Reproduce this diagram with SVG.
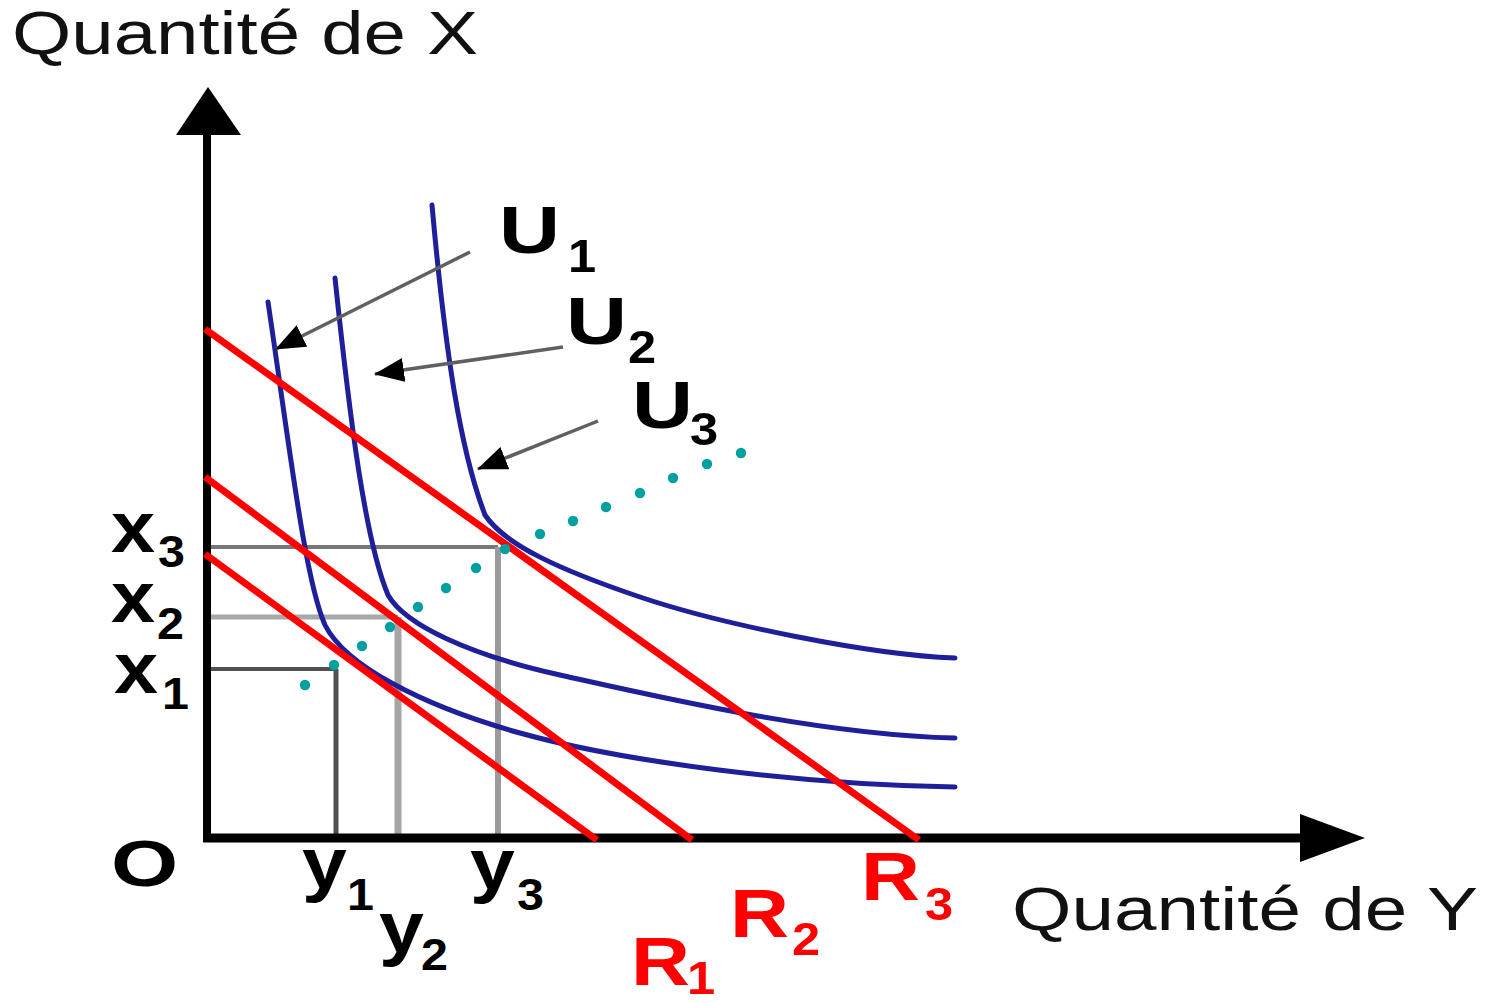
<svg xmlns="http://www.w3.org/2000/svg" width="1487" height="1003" viewBox="0 0 1487 1003">
<style>
.title{font-family:"Liberation Sans",Arial,sans-serif;font-size:62px;fill:#111}
.lb{font-family:"Liberation Sans",Arial,sans-serif;font-weight:bold;font-size:66px;fill:#000}
.sb{font-family:"Liberation Sans",Arial,sans-serif;font-weight:bold;font-size:46px;fill:#000}
.xy{font-family:"Liberation Sans",Arial,sans-serif;font-weight:bold;font-size:72px;fill:#000}
.xs{font-family:"Liberation Sans",Arial,sans-serif;font-weight:bold;font-size:44px;fill:#000}
.r{font-family:"Liberation Sans",Arial,sans-serif;font-weight:bold;font-size:68px;fill:#ff0000}
.rs{font-family:"Liberation Sans",Arial,sans-serif;font-weight:bold;font-size:46px;fill:#ff0000}
.ic{fill:none;stroke:#1f1f99;stroke-width:5;stroke-linecap:round}
.bl{stroke:#ff0000;stroke-width:7}
.ptr{stroke:#606060;stroke-width:3.5;fill:none}
.dot{fill:#00a0a0}
</style>
<defs>
<marker id="ah" viewBox="0 0 30 24" refX="29" refY="12" markerWidth="30" markerHeight="24" markerUnits="userSpaceOnUse" orient="auto">
<path d="M0,0 L30,12 L0,24 z" fill="#000"/>
</marker>
</defs>
<rect width="1487" height="1003" fill="#fff"/>

<g id="guides">
<line x1="207" y1="547" x2="498" y2="547" stroke="#777" stroke-width="4"/>
<line x1="498" y1="547" x2="498" y2="838" stroke="#9a9a9a" stroke-width="6"/>
<line x1="207" y1="617" x2="398" y2="617" stroke="#a8a8a8" stroke-width="5"/>
<line x1="398" y1="617" x2="398" y2="838" stroke="#a5a5a5" stroke-width="7"/>
<line x1="207" y1="669" x2="336" y2="669" stroke="#505050" stroke-width="4"/>
<line x1="336" y1="669" x2="336" y2="838" stroke="#505050" stroke-width="5"/>
</g>

<g id="axes">
<line x1="207" y1="842" x2="207" y2="130" stroke="#000" stroke-width="8"/>
<polygon points="208,87 241,135 176,135" fill="#000"/>
<line x1="203" y1="838" x2="1305" y2="838" stroke="#000" stroke-width="9"/>
<polygon points="1365,838 1300,814 1300,862" fill="#000"/>
</g>

<g id="curves">
<path id="U1" class="ic" d="M268,302 C290,450 305,580 325,625 C345,665 420,705 520,733 S800,785 955,787"/>
<path id="U2" class="ic" d="M335,278 C350,420 365,540 388,595 C405,625 470,655 560,675 S820,735 955,738"/>
<path id="U3" class="ic" d="M432,205 C445,350 460,450 485,515 C505,545 560,570 640,597 S870,655 955,658"/>
</g>

<g id="budget">
<line id="R1" class="bl" x1="205" y1="554" x2="597" y2="840"/>
<line id="R2" class="bl" x1="205" y1="477" x2="692" y2="840"/>
<line id="R3" class="bl" x1="205" y1="329" x2="919" y2="840"/>
</g>

<g id="icc">
<circle class="dot" cx="305" cy="685" r="5.2"/>
<circle class="dot" cx="334" cy="665" r="5.2"/>
<circle class="dot" cx="362" cy="646" r="5.2"/>
<circle class="dot" cx="390" cy="627" r="5.2"/>
<circle class="dot" cx="418" cy="607" r="5.2"/>
<circle class="dot" cx="446" cy="588" r="5.2"/>
<circle class="dot" cx="476" cy="568" r="5.2"/>
<circle class="dot" cx="505" cy="549" r="5.2"/>
<circle class="dot" cx="540" cy="534" r="5.2"/>
<circle class="dot" cx="573" cy="521" r="5.2"/>
<circle class="dot" cx="606" cy="507" r="5.2"/>
<circle class="dot" cx="640" cy="493" r="5.2"/>
<circle class="dot" cx="673" cy="478" r="5.2"/>
<circle class="dot" cx="707" cy="464" r="5.2"/>
<circle class="dot" cx="741" cy="453" r="5.2"/>
</g>

<g id="connectors">
<line class="ptr" x1="470" y1="252" x2="276" y2="349" marker-end="url(#ah)"/>
<line class="ptr" x1="563" y1="347" x2="375" y2="374" marker-end="url(#ah)"/>
<line class="ptr" x1="598" y1="421" x2="478" y2="469" marker-end="url(#ah)"/>
</g>

<g id="titles">
<text class="title" x="12" y="54" textLength="466" lengthAdjust="spacingAndGlyphs">Quantité de X</text>
<text class="title" x="1012" y="930" textLength="466" lengthAdjust="spacingAndGlyphs">Quantité de Y</text>
</g>

<g id="label-U1"><text class="lb" transform="translate(499 253) scale(1.28 1)">U</text><text class="sb" transform="translate(568 272) scale(1.1 1)">1</text></g>
<g id="label-U2"><text class="lb" transform="translate(566 344) scale(1.28 1)">U</text><text class="sb" transform="translate(628 363) scale(1.1 1)">2</text></g>
<g id="label-U3"><text class="lb" transform="translate(632 428) scale(1.28 1)">U</text><text class="sb" transform="translate(690 445) scale(1.1 1)">3</text></g>

<g id="label-x3"><text class="xy" transform="translate(111 552) scale(1.1 1)">x</text><text class="xs" transform="translate(158 567) scale(1.1 1)">3</text></g>
<g id="label-x2"><text class="xy" transform="translate(111 622) scale(1.1 1)">x</text><text class="xs" transform="translate(157 639) scale(1.1 1)">2</text></g>
<g id="label-x1"><text class="xy" transform="translate(114 693) scale(1.1 1)">x</text><text class="xs" transform="translate(162 709) scale(1.1 1)">1</text></g>

<g id="label-y1"><text class="xy" transform="translate(302 888) scale(1.12 1)">y</text><text class="xs" transform="translate(347 910) scale(1.1 1)">1</text></g>
<g id="label-y2"><text class="xy" transform="translate(379 952) scale(1.12 1)">y</text><text class="xs" transform="translate(421 970) scale(1.1 1)">2</text></g>
<g id="label-y3"><text class="xy" transform="translate(470 889) scale(1.12 1)">y</text><text class="xs" transform="translate(517 910) scale(1.1 1)">3</text></g>

<g id="label-O"><text class="lb" style="font-size:64px" transform="translate(111 886) scale(1.35 1)">O</text></g>

<g id="label-R1"><text class="r" transform="translate(631 985) scale(1.2 1)">R</text><text class="rs" transform="translate(687 994) scale(1.1 1)">1</text></g>
<g id="label-R2"><text class="r" transform="translate(730 937) scale(1.2 1)">R</text><text class="rs" transform="translate(792 955) scale(1.1 1)">2</text></g>
<g id="label-R3"><text class="r" transform="translate(861 900) scale(1.2 1)">R</text><text class="rs" transform="translate(925 920) scale(1.1 1)">3</text></g>
</svg>
